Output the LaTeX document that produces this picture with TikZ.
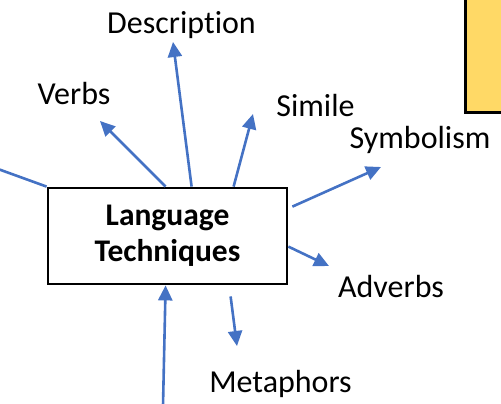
\documentclass[tikz,border=0pt]{standalone}
\usepackage{fontspec}
\setmainfont{Carlito}[RawFeature=-liga]
\usetikzlibrary{arrows.meta}

\definecolor{arrblue}{HTML}{4472C4}
\definecolor{boxyellow}{HTML}{FFD966}

\tikzset{
  lbl/.style={anchor=base,inner sep=0pt,font=\fontsize{32}{38}\selectfont},
  arr/.style={draw=arrblue,line width=2.6pt,-{Triangle[length=15pt,width=14pt]}},
  mainbox/.style={draw=black,line width=2.8pt,fill=white,minimum width=239pt,minimum height=96pt,
    align=center,font=\fontsize{31.5}{36}\selectfont\bfseries}
}

\begin{document}
\begin{tikzpicture}[x=1pt,y=-1pt]
\useasboundingbox (0,0) rectangle (501,404);

\draw[fill=boxyellow,line width=3pt] (465.5,-10) rectangle (520,112.5);

\node[mainbox] (lt) at (167.5,236) {Language\\Techniques};

\node[lbl] (desc) at (181.5,34) {Description};
\node[lbl] (verbs) at (74,105) {Verbs};
\node[lbl] (simile) at (315.5,117) {Simile};
\node[lbl] (symb) at (420,148) {Symbolism};
\node[lbl] (adv) at (391,297) {Adverbs};
\node[lbl] (meta) at (280.5,392) {Metaphors};

\coordinate (descTip) at (173,42);
\coordinate (verbsTip) at (100,121);
\coordinate (simileTip) at (253,114);
\coordinate (symbTip) at (381,167);
\coordinate (advTip) at (329,266);
\coordinate (metaTip) at (237,346);
\coordinate (leftEnd) at (-2,169);
\coordinate (botEnd) at (163,406);

% arrows out of the box
\draw[arr] ([xshift=145pt]lt.north west) -- (descTip);
\draw[arr] ([xshift=119pt]lt.north west) -- (verbsTip);
\draw[arr] ([xshift=187pt]lt.north west) -- (simileTip);
\draw[arr] ([xshift=4pt,yshift=-20pt]lt.north east) -- (symbTip);
\draw[arr] ([yshift=-60pt]lt.north east) -- (advTip);
\draw[arr] ([xshift=184pt,yshift=-11pt]lt.south west) -- (metaTip);

% lines coming in
\draw[arr] (botEnd) -- ([xshift=119pt]lt.south west);
\draw[draw=arrblue,line width=2.6pt] (leftEnd) -- (lt.north west);
\end{tikzpicture}
\end{document}
